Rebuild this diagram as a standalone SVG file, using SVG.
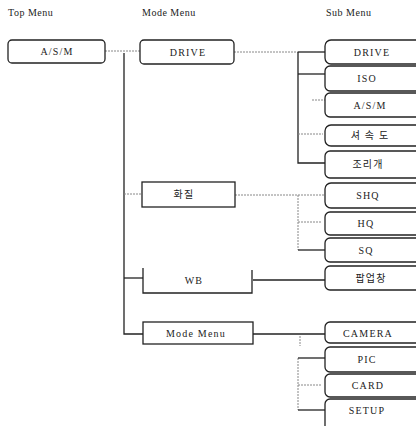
<svg xmlns="http://www.w3.org/2000/svg" width="416" height="426" viewBox="0 0 416 426">
<style>
.hd{font-family:"Liberation Serif",serif;font-size:10px;fill:#222;letter-spacing:0.5px}
.t{font-family:"Liberation Serif","Noto Sans CJK KR",serif;font-size:10px;fill:#222;text-anchor:middle;letter-spacing:1.2px}
.bx{fill:#fff;stroke:#222;stroke-width:1.3}
.sol{fill:none;stroke:#222;stroke-width:1.3}
.dot{fill:none;stroke:#888;stroke-width:1;stroke-dasharray:2 1}
</style>
<rect width="416" height="426" fill="#fff"/>
<g id="headers">
<text class="hd" x="8" y="16">Top Menu</text>
<text class="hd" x="142" y="16">Mode Menu</text>
<text class="hd" x="326" y="16">Sub Menu</text>
</g>
<g id="connectors">
<path class="dot" d="M105 51 H140"/>
<path class="sol" d="M124 53 V334 H143"/>
<path class="dot" d="M124 194 H142"/>
<path class="sol" d="M124 278 H143"/>
<path class="dot" d="M234 52 H298"/>
<path class="sol" d="M298 52 H325"/>
<path class="sol" d="M298 52 V163 H325"/>
<path class="sol" d="M298 74 H325"/>
<path class="dot" d="M312 100 H325"/>
<path class="dot" d="M298 134 H323"/>
<path class="dot" d="M235 195 H325"/>
<path class="dot" d="M298 195 V250"/>
<path class="dot" d="M298 222 H322"/>
<path class="sol" d="M298 250 H325"/>
<path class="sol" d="M253 280 H325"/>
<path class="sol" d="M253 334 H325"/>
<path class="dot" d="M300 336 V346"/>
<path class="dot" d="M298 358 V410"/>
<path class="sol" d="M298 358 H325"/>
<path class="dot" d="M298 385 H322"/>
<path class="sol" d="M298 410 H325"/>
</g>
<g id="n-asm"><rect class="bx" x="8" y="40" width="97" height="23" rx="4"/><text class="t" x="57" y="55">A/S/M</text></g>
<g id="n-drive"><rect class="bx" x="140" y="40" width="94" height="24" rx="4"/><text class="t" x="188" y="56">DRIVE</text></g>
<g id="n-quality"><rect class="bx" x="142" y="182" width="93" height="25"/><text class="t" x="184" y="198">화질</text></g>
<g id="n-wb"><path class="sol" d="M143 268 V293 H252 V270"/><text class="t" x="194" y="284">WB</text></g>
<g id="n-modemenu"><rect class="bx" x="143" y="322" width="110" height="22"/><text class="t" x="196" y="337">Mode Menu</text></g>
<g id="s-drive"><rect class="bx" x="325" y="40" width="100" height="24" rx="6"/><text class="t" x="372" y="56">DRIVE</text></g>
<g id="s-iso"><rect class="bx" x="325" y="66" width="100" height="25" rx="5"/><text class="t" x="367" y="82">ISO</text></g>
<g id="s-asm"><rect class="bx" x="325" y="93" width="100" height="24" rx="5"/><text class="t" x="370" y="109">A/S/M</text></g>
<g id="s-shutter"><rect class="bx" x="325" y="125" width="100" height="21" rx="6"/><text class="t" x="370" y="139">셔 속 도</text></g>
<g id="s-aperture"><rect class="bx" x="325" y="151" width="100" height="27" rx="5"/><text class="t" x="368" y="168">조리개</text></g>
<g id="s-shq"><rect class="bx" x="325" y="183" width="100" height="25" rx="6"/><text class="t" x="368" y="199">SHQ</text></g>
<g id="s-hq"><rect class="bx" x="325" y="212" width="100" height="23" rx="5"/><text class="t" x="366" y="227">HQ</text></g>
<g id="s-sq"><rect class="bx" x="325" y="238" width="100" height="24" rx="5"/><text class="t" x="366" y="254">SQ</text></g>
<g id="s-popup"><rect class="bx" x="325" y="266" width="100" height="24" rx="5"/><text class="t" x="371" y="282">팝업창</text></g>
<g id="s-camera"><rect class="bx" x="325" y="322" width="100" height="21" rx="5"/><text class="t" x="368" y="337">CAMERA</text></g>
<g id="s-pic"><rect class="bx" x="325" y="347" width="100" height="25" rx="5"/><text class="t" x="367" y="363">PIC</text></g>
<g id="s-card"><rect class="bx" x="325" y="374" width="100" height="23" rx="5"/><text class="t" x="368" y="389">CARD</text></g>
<g id="s-setup"><rect class="bx" x="325" y="399" width="100" height="32" rx="5"/><text class="t" x="367" y="414">SETUP</text></g>
</svg>
